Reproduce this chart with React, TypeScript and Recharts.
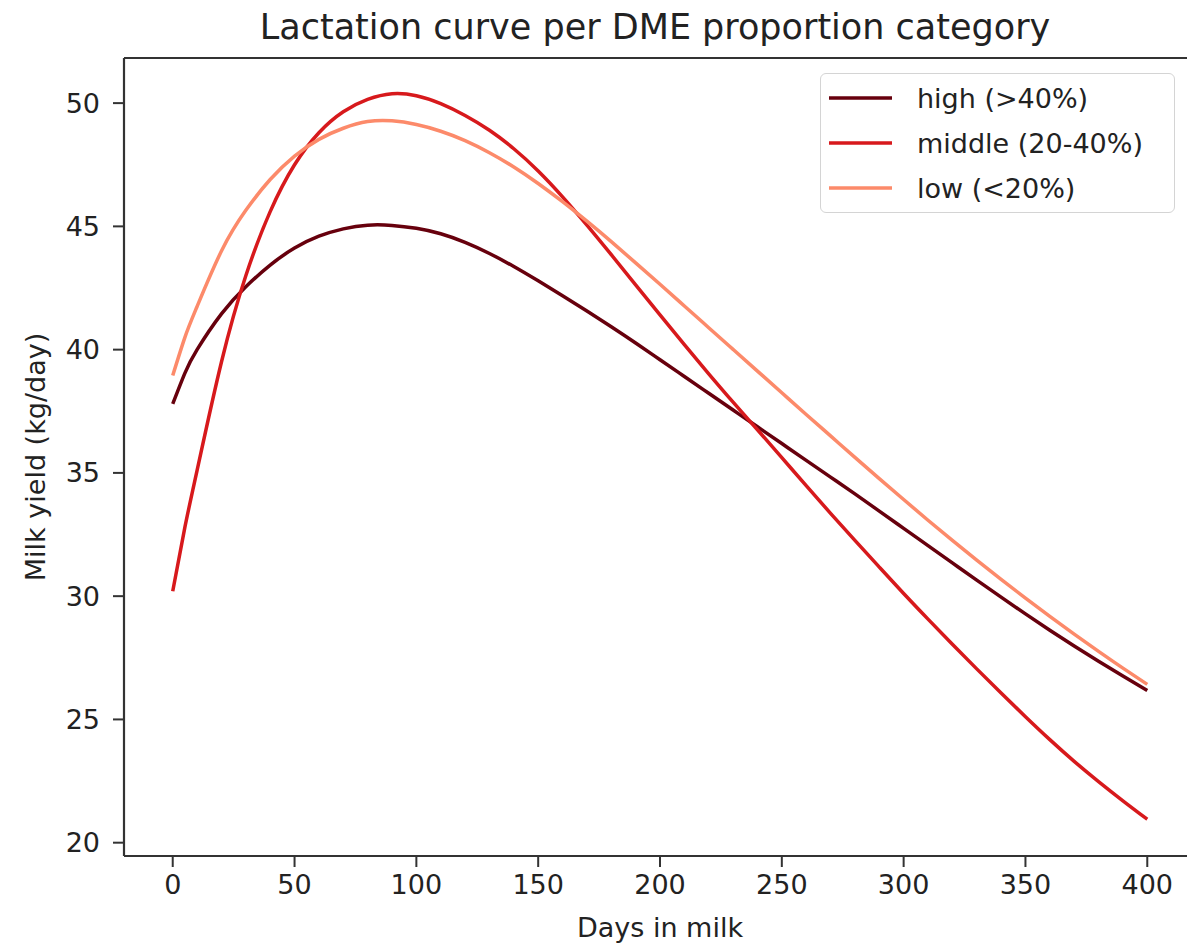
import React from "react";
import { LineChart, Line, XAxis, YAxis, ReferenceLine, Legend, Label } from "recharts";

const days = [0, 5, 10, 20, 30, 40, 50, 60, 70, 80, 90, 100, 110, 120, 130, 140, 150, 160, 170, 180, 190, 200, 210, 220, 230, 240, 250, 260, 270, 280, 290, 300, 310, 320, 330, 340, 350, 360, 370, 380, 390, 400];

const highValues = [37.8, 39.05, 40.0, 41.45, 42.55, 43.43, 44.12, 44.6, 44.9, 45.05, 45.04, 44.92, 44.7, 44.35, 43.9, 43.37, 42.79, 42.19, 41.57, 40.93, 40.27, 39.59, 38.91, 38.23, 37.55, 36.87, 36.19, 35.51, 34.83, 34.15, 33.45, 32.75, 32.05, 31.35, 30.65, 29.96, 29.28, 28.62, 27.98, 27.36, 26.76, 26.17];

const middleValues = [30.2, 32.8, 35.1, 39.5, 43.0, 45.6, 47.5, 48.8, 49.65, 50.15, 50.38, 50.3, 49.98, 49.5, 48.9, 48.15, 47.25, 46.2, 45.05, 43.85, 42.63, 41.41, 40.2, 39.02, 37.87, 36.75, 35.62, 34.48, 33.36, 32.26, 31.18, 30.11, 29.07, 28.05, 27.05, 26.07, 25.11, 24.18, 23.3, 22.48, 21.7, 20.95];

const lowValues = [38.95, 40.5, 41.75, 44.0, 45.65, 46.9, 47.85, 48.53, 48.98, 49.25, 49.28, 49.13, 48.86, 48.48, 47.99, 47.41, 46.74, 46.0, 45.21, 44.38, 43.52, 42.65, 41.77, 40.89, 40.01, 39.13, 38.25, 37.37, 36.5, 35.63, 34.77, 33.92, 33.08, 32.26, 31.46, 30.68, 29.92, 29.18, 28.46, 27.76, 27.08, 26.42];

const xTicks = [0, 50, 100, 150, 200, 250, 300, 350, 400];
const yTicks = [20, 25, 30, 35, 40, 45, 50];

const seriesNames = ["high (>40%)", "middle (20-40%)", "low (<20%)"];
const seriesKeys = ["high", "middle", "low"];
const seriesColors = ["#67000d", "#d7191c", "#fc8a6a"];

const titleText = "Lactation curve per DME proportion category";
const xLabel = "Days in milk";
const yLabel = "Milk yield (kg/day)";

const X_DOMAIN: [number, number] = [-20, 420];
const Y_DOMAIN: [number, number] = [19.46, 51.83];

const data = days.map((d, i) => ({
  day: d,
  high: highValues[i],
  middle: middleValues[i],
  low: lowValues[i],
}));

const FONT = "'DejaVu Sans', sans-serif";
const TEXT = "#222222";
const SPINE = "#333333";

const LegendBox = () => (
  <div
    style={{
      width: 355,
      height: 140,
      border: "1.5px solid #d4d4d4",
      borderRadius: 6,
      background: "rgba(255,255,255,0.85)",
      boxSizing: "border-box",
    }}
  >
    <svg width={355} height={140} style={{ display: "block" }}>
      {seriesNames.map((name, i) => (
        <g key={name}>
          <line x1={8} x2={71} y1={24 + i * 45} y2={24 + i * 45} stroke={seriesColors[i]} strokeWidth={3.5} />
          <text x={96} y={34 + i * 45} fontFamily={FONT} fontSize={27} fill={TEXT}>
            {name}
          </text>
        </g>
      ))}
    </svg>
  </div>
);

export default function App() {
  return (
    <div style={{ position: "absolute", left: 0, top: 0, width: 1187, height: 948, overflow: "hidden", background: "#fff" }}>
      <svg width={1187} height={60} style={{ position: "absolute", left: 0, top: 0 }}>
        <text x={655} y={39} textAnchor="middle" fontFamily={FONT} fontSize={35} fill={TEXT}>
          {titleText}
        </text>
      </svg>
      <LineChart
        width={1200}
        height={948}
        data={data}
        margin={{ top: 58, right: 4, left: 0, bottom: 0 }}
      >
        <XAxis
          dataKey="day"
          type="number"
          domain={X_DOMAIN}
          ticks={xTicks}
          allowDataOverflow
          height={92}
          tickSize={11}
          tickMargin={8}
          axisLine={{ stroke: SPINE, strokeWidth: 2.2 }}
          tickLine={{ stroke: SPINE, strokeWidth: 2 }}
          tick={{ fontFamily: FONT, fontSize: 27, fill: TEXT }}
          interval={0}
        >
          <Label
            content={(props: any) => {
              const vb = props.viewBox || {};
              return (
                <text
                  x={vb.x + vb.width / 2}
                  y={937}
                  textAnchor="middle"
                  fontFamily={FONT}
                  fontSize={27}
                  fill={TEXT}
                >
                  {xLabel}
                </text>
              );
            }}
          />
        </XAxis>
        <YAxis
          type="number"
          domain={Y_DOMAIN}
          ticks={yTicks}
          allowDataOverflow
          width={124}
          tickSize={11}
          tickMargin={13}
          axisLine={{ stroke: SPINE, strokeWidth: 2.2 }}
          tickLine={{ stroke: SPINE, strokeWidth: 2 }}
          tick={{ fontFamily: FONT, fontSize: 27, fill: TEXT }}
          interval={0}
        >
          <Label
            content={(props: any) => {
              const vb = props.viewBox || {};
              const cy = vb.y + vb.height / 2;
              return (
                <text
                  x={45}
                  y={cy}
                  transform={`rotate(-90, 45, ${cy})`}
                  textAnchor="middle"
                  fontFamily={FONT}
                  fontSize={27}
                  fill={TEXT}
                >
                  {yLabel}
                </text>
              );
            }}
          />
        </YAxis>
        <ReferenceLine y={Y_DOMAIN[1]} stroke={SPINE} strokeWidth={2.2} ifOverflow="visible" />
        <ReferenceLine x={X_DOMAIN[1]} stroke={SPINE} strokeWidth={2.2} ifOverflow="visible" />
        {seriesKeys.map((k, i) => (
          <Line
            key={k}
            dataKey={k}
            name={seriesNames[i]}
            type="natural"
            stroke={seriesColors[i]}
            strokeWidth={3.5}
            dot={false}
            activeDot={false}
            isAnimationActive={false}
          />
        ))}
        <Legend
          layout="vertical"
          align="center"
          verticalAlign="middle"
          content={() => <LegendBox />}
          wrapperStyle={{ left: 820, top: 73, width: 357, height: 142, bottom: "auto", right: "auto" }}
        />
      </LineChart>
    </div>
  );
}
